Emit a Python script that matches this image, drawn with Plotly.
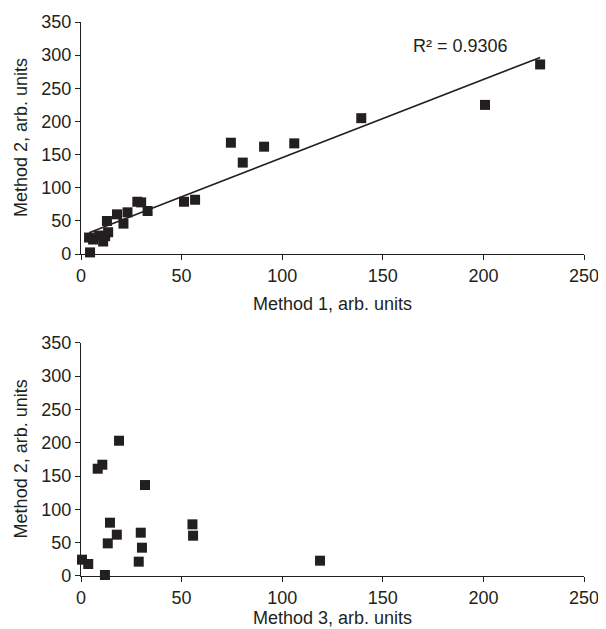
import numpy as np
import plotly.graph_objects as go
from plotly.subplots import make_subplots

# method 1 vs method 2 (top panel)
m1_x = [4.0, 6.0, 9.0, 11.0, 12.0, 13.5, 4.5, 12.9, 17.9, 21.1, 23.1, 28.0,
        29.9, 33.1, 51.2, 56.7, 74.5, 80.4, 91.0, 106.0, 139.3, 200.8, 228.2]
m1_y = [25, 22, 28, 19, 27, 33, 2.6, 50, 60, 46, 63, 79,
        78, 65, 79, 82, 168, 138, 162, 167, 205, 225, 286]
r2_label = "R\u00b2 = 0.9306"

# method 3 vs method 2 (bottom panel)
m3_x = [0.5, 3.6, 11.9, 13.3, 14.4, 17.8, 18.9, 8.3, 10.6, 31.8,
        29.7, 30.3, 28.7, 55.4, 55.7, 118.8]
m3_y = [24.5, 18, 1.5, 49, 80, 62, 203, 161, 167, 136.5,
        65, 42.5, 21.5, 77.5, 60.5, 23]

x_ticks = [0, 50, 100, 150, 200, 250]
y_ticks = [0, 50, 100, 150, 200, 250, 300, 350]

ink = "#231f20"
font = "Liberation Sans, Arial, sans-serif"
fsize = 18

fig = make_subplots(rows=2, cols=1)

marker = dict(symbol="square", size=10, color=ink, line=dict(width=0))
fig.add_trace(go.Scatter(x=m1_x, y=m1_y, mode="markers", marker=marker,
                         cliponaxis=False, showlegend=False), row=1, col=1)

# linear trendline from the data
slope, icpt = np.polyfit(m1_x, m1_y, 1)
tx = np.array([min(m1_x), max(m1_x)])
fig.add_trace(go.Scatter(x=tx, y=slope * tx + icpt, mode="lines",
                         line=dict(color=ink, width=1.6),
                         showlegend=False), row=1, col=1)

fig.add_trace(go.Scatter(x=m3_x, y=m3_y, mode="markers", marker=marker,
                         cliponaxis=False, showlegend=False), row=2, col=1)

txt = dict(size=fsize, color=ink, family=font)
fig.add_annotation(x=188.5, y=314, xref="x", yref="y", text=r2_label,
                   showarrow=False, font=txt)

# axis titles
for ax, label, shift in [("", "Method 1, arb. units", -50),
                         ("2", "Method 3, arb. units", -42)]:
    fig.add_annotation(x=0.5, y=0, xref="x%s domain" % ax, yref="y%s domain" % ax,
                       text=label, showarrow=False, font=txt,
                       yanchor="middle", yshift=shift)
    fig.add_annotation(x=0, y=0.5, xref="x%s domain" % ax, yref="y%s domain" % ax,
                       text="Method 2, arb. units", showarrow=False, font=txt,
                       textangle=-90, xanchor="center", xshift=-60)

axis_style = dict(showline=True, linecolor=ink, linewidth=1.2, showgrid=False,
                  zeroline=False, ticks="outside", ticklen=5, tickcolor=ink,
                  tickwidth=1.2, automargin=False,
                  tickfont=dict(size=fsize, color=ink, family=font))

fig.update_xaxes(range=[0, 250], tickvals=x_ticks, **axis_style)
fig.update_yaxes(range=[0, 350], tickvals=y_ticks, **axis_style)

# page body adds 8px, so the figure is 8px smaller and margins shifted
fig.update_layout(
    width=598, height=621,
    margin=dict(l=73, r=22, t=14, b=53),
    plot_bgcolor="white", paper_bgcolor="white",
    xaxis=dict(domain=[0, 1]), yaxis=dict(domain=[0.581, 1]),
    xaxis2=dict(domain=[0, 1]), yaxis2=dict(domain=[0, 0.421]),
)

fig.write_html("out.html")
